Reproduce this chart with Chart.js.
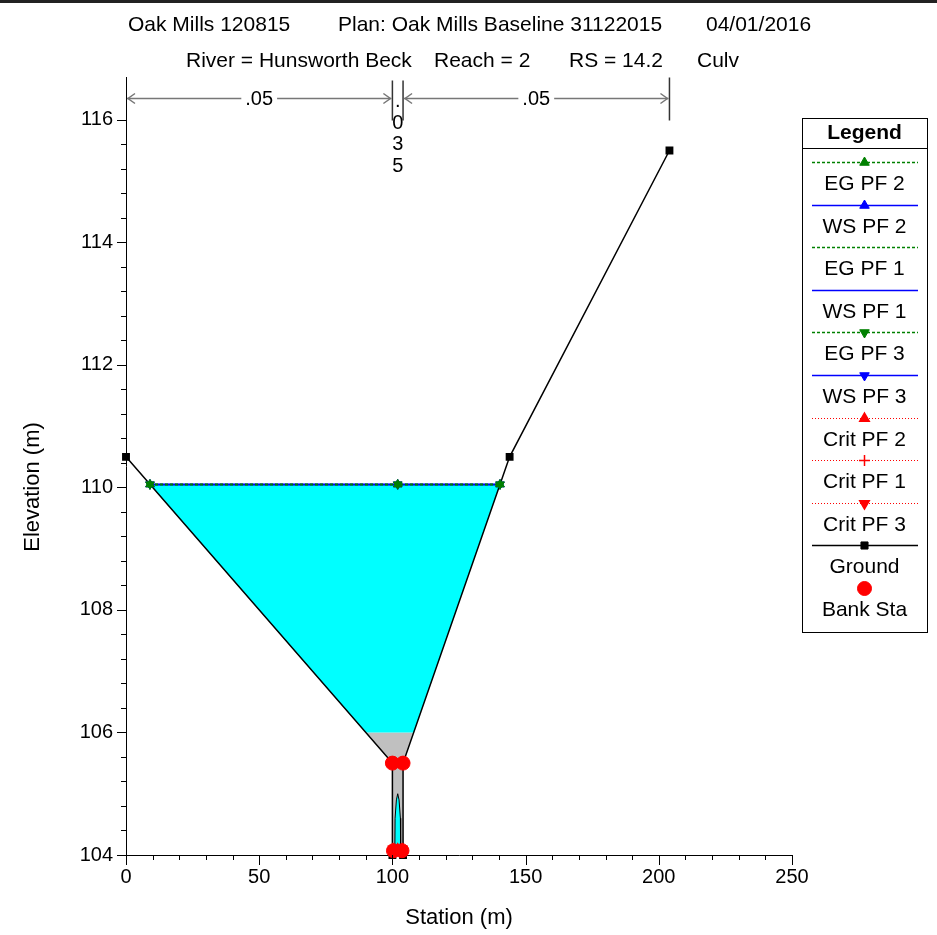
<!DOCTYPE html>
<html>
<head>
<meta charset="utf-8">
<script src="https://cdn.jsdelivr.net/npm/chart.js@4.4.1/dist/chart.umd.min.js"></script>
<style>
  body { margin: 0; background: #fff; }
  #wrap { width: 937px; height: 935px; position: relative; }
</style>
</head>
<body>
<div id="wrap"><canvas id="c" width="937" height="935"></canvas></div>
<script>
// Title text
const titleLine1 = ['Oak Mills 120815', 'Plan: Oak Mills Baseline 31122015', '04/01/2016'];
const titleLine2 = ['River = Hunsworth Beck', 'Reach = 2', 'RS = 14.2', 'Culv'];
const yAxisTitle = 'Elevation (m)';

// Axis ticks
const xTickValues = [0, 50, 100, 150, 200, 250];
const yTickValues = [104, 106, 108, 110, 112, 114, 116];

// Ground profile
const groundX = [0, 100, 100, 104, 104, 144, 204];
const groundY = [110.5, 105.5, 104, 104, 105.5, 110.5, 115.5];

// Water surface / energy grade (all profiles at the same level)
const profileX = [9, 102, 140.4];
const egPF2 = [110.05, 110.05, 110.05];
const wsPF2 = [110.05, 110.05, 110.05];
const egPF1 = [110.05, 110.05, 110.05];
const wsPF1 = [110.05, 110.05, 110.05];
const egPF3 = [110.05, 110.05, 110.05];
const wsPF3 = [110.05, 110.05, 110.05];

// Critical depth inside the culvert
const critX = [100.2, 102, 103.8];
const critPF2 = [104.1, 104.1, 104.1];
const critPF1 = [104.1, 104.1, 104.1];
const critPF3 = [104.1, 104.1, 104.1];

// Bank stations
const bankX = [100, 104, 100.4, 103.6];
const bankY = [105.5, 105.5, 104.07, 104.07];

// Filled areas
const waterX = [9, 90, 108, 140.4, 9];
const waterY = [110.05, 106, 106, 110.05, 110.05];
const culvertX = [90, 100, 100, 104, 104, 108, 90];
const culvertY = [106, 105.5, 104, 104, 105.5, 106, 106];
const culvertWaterX = [100.9, 101.0, 101.5, 102, 102.5, 103.0, 103.1, 100.9];
const culvertWaterY = [104, 104.6, 104.9, 105.0, 104.9, 104.6, 104, 104];

// Manning's n
const nBreaks = [0, 100, 104, 204];
const nValues = ['.05', '.035', '.05'];
const nLevel = 116.36;

const pts = (xs, ys) => xs.map((x, i) => ({ x, y: ys[i] }));

const FONT = "'Liberation Sans', Arial, sans-serif";
const GREEN = '#008000', BLUE = '#0000ff', RED = '#ff0000';

function profileLine(label, ys, color, dash, style, order) {
    return {
        label, data: pts(profileX, ys), showLine: true,
        borderColor: color, backgroundColor: color,
        borderWidth: 1.5, borderDash: dash,
        pointStyle: style || 'circle', pointRadius: style ? 5 : 0,
        pointBorderWidth: 1, order
    };
}

function critLine(label, ys, style) {
    return {
        label, data: pts(critX, ys), showLine: true,
        borderColor: RED, backgroundColor: RED,
        borderWidth: 1, borderDash: [1, 2],
        pointStyle: style, pointRadius: 5, pointBorderWidth: 1.5, order: 20
    };
}

function area(xs, ys, fillColor, border) {
    return {
        data: pts(xs, ys), showLine: true, fill: 'shape',
        backgroundColor: fillColor, borderColor: border || fillColor,
        borderWidth: border ? 1 : 0, pointRadius: 0, order: 100, noLegend: true
    };
}

const datasets = [
    profileLine('EG PF 2', egPF2, GREEN, [3, 2], 'triangle', 30),
    profileLine('WS PF 2', wsPF2, BLUE, [], 'triangle', 40),
    profileLine('EG PF 1', egPF1, GREEN, [3, 2], null, 30),
    profileLine('WS PF 1', wsPF1, BLUE, [], null, 40),
    Object.assign(profileLine('EG PF 3', egPF3, GREEN, [3, 2], 'triangle', 30), { pointRotation: 180 }),
    Object.assign(profileLine('WS PF 3', wsPF3, BLUE, [], 'triangle', 40), { pointRotation: 180 }),
    critLine('Crit PF 2', critPF2, 'triangle'),
    critLine('Crit PF 1', critPF1, 'cross'),
    Object.assign(critLine('Crit PF 3', critPF3, 'triangle'), { pointRotation: 180 }),
    {
        label: 'Ground', data: pts(groundX, groundY), showLine: true, clip: false,
        borderColor: '#000', backgroundColor: '#000', borderWidth: 1.5,
        pointStyle: 'rect', pointRadius: 4.5, order: 50
    },
    {
        label: 'Bank Sta', data: pts(bankX, bankY), showLine: false, clip: false,
        borderColor: RED, backgroundColor: RED,
        pointStyle: 'circle', pointRadius: 7, order: 10
    },
    area(waterX, waterY, '#00ffff'),
    area(culvertX, culvertY, '#c0c0c0'),
    Object.assign(area(culvertWaterX, culvertWaterY, '#00ffff', '#000'), { order: 90 })
];

// Title, Manning's n bar, minor ticks and the boxed legend
const overlay = {
    id: 'overlay',
    afterDraw(chart) {
        const { ctx, scales: { x, y }, chartArea } = chart;
        ctx.save();

        // top frame line
        ctx.fillStyle = '#222';
        ctx.fillRect(0, 0, chart.width, 3);

        // titles
        ctx.fillStyle = '#000';
        ctx.font = '21px ' + FONT;
        ctx.textBaseline = 'middle';
        ctx.textAlign = 'left';
        [128, 338, 706].forEach((px, i) => ctx.fillText(titleLine1[i], px, 25));
        [186, 434, 569, 697].forEach((px, i) => ctx.fillText(titleLine2[i], px, 61));

        // y axis title
        ctx.save();
        ctx.translate(33, 487);
        ctx.rotate(-Math.PI / 2);
        ctx.textAlign = 'center';
        ctx.font = '22px ' + FONT;
        ctx.fillText(yAxisTitle, 0, 0);
        ctx.restore();

        // tick marks
        ctx.strokeStyle = '#000';
        ctx.lineWidth = 1;
        const xb = chartArea.bottom, yl = chartArea.left;
        for (let v = 0; v <= 250; v += 10) {
            const px = Math.round(x.getPixelForValue(v)) + 0.5;
            const len = v % 50 === 0 ? 10 : 5;
            ctx.beginPath(); ctx.moveTo(px, xb); ctx.lineTo(px, xb + len); ctx.stroke();
        }
        for (let k = 0; k <= 30; k++) {
            const v = 104 + k * 0.4;
            const py = Math.round(y.getPixelForValue(v)) + 0.5;
            const len = k % 5 === 0 ? 9 : 5;
            ctx.beginPath(); ctx.moveTo(yl, py); ctx.lineTo(yl - len, py); ctx.stroke();
        }

        // Manning's n bar
        const ny = Math.round(y.getPixelForValue(nLevel)) + 0.5;
        const bx = nBreaks.map(v => x.getPixelForValue(v));
        ctx.strokeStyle = '#333';
        ctx.lineWidth = 1.5;
        bx.forEach((px, i) => {
            if (i === 0) return;
            const top = i === bx.length - 1 ? ny - 21 : ny - 18;
            ctx.beginPath(); ctx.moveTo(px, top); ctx.lineTo(px, ny + 22); ctx.stroke();
        });
        ctx.font = '20px ' + FONT;
        ctx.textAlign = 'center';
        for (let i = 0; i < nValues.length; i++) {
            const a = bx[i], b = bx[i + 1];
            const tw = ctx.measureText(nValues[i]).width;
            if (b - a > tw + 20) {
                ctx.strokeStyle = '#777';
                ctx.lineWidth = 1.5;
                ctx.beginPath(); ctx.moveTo(a + 1, ny); ctx.lineTo(b - 1, ny); ctx.stroke();
                ctx.beginPath();
                ctx.moveTo(a + 9, ny - 5); ctx.lineTo(a + 2, ny); ctx.lineTo(a + 9, ny + 5);
                ctx.moveTo(b - 9, ny - 5); ctx.lineTo(b - 2, ny); ctx.lineTo(b - 9, ny + 5);
                ctx.stroke();
                const cx = (a + b) / 2;
                ctx.fillStyle = '#fff';
                ctx.fillRect(cx - tw / 2 - 4, ny - 8, tw + 8, 16);
                ctx.fillStyle = '#000';
                ctx.fillText(nValues[i], cx, ny + 1);
            } else {
                ctx.fillStyle = '#000';
                const cx = (a + b) / 2;
                nValues[i].split('').forEach((ch, k) => ctx.fillText(ch, cx, ny + 3 + k * 21.5));
            }
        }

        // legend box
        const L = 802, R = 927, T = 118, B = 632, cx = (L + R) / 2;
        ctx.fillStyle = '#fff';
        ctx.fillRect(L, T, R - L, B - T);
        ctx.strokeStyle = '#000';
        ctx.lineWidth = 1;
        ctx.strokeRect(L + 0.5, T + 0.5, R - L, B - T);
        ctx.beginPath(); ctx.moveTo(L, 148.5); ctx.lineTo(R, 148.5); ctx.stroke();
        ctx.fillStyle = '#000';
        ctx.font = 'bold 21px ' + FONT;
        ctx.fillText('Legend', cx, 133);
        ctx.font = '21px ' + FONT;
        chart.data.datasets.filter(d => !d.noLegend).forEach((d, i) => {
            const ly = Math.round(162 + i * 42.6) + 0.5;
            if (d.showLine) {
                ctx.save();
                ctx.strokeStyle = d.borderColor;
                ctx.lineWidth = d.borderWidth;
                ctx.setLineDash(d.borderDash || []);
                ctx.beginPath(); ctx.moveTo(L + 10, ly); ctx.lineTo(R - 9, ly); ctx.stroke();
                ctx.restore();
            }
            if (d.pointRadius > 0) {
                ctx.save();
                ctx.fillStyle = d.backgroundColor;
                ctx.strokeStyle = d.borderColor;
                ctx.lineWidth = d.pointBorderWidth || 1;
                Chart.helpers.drawPoint(ctx, {
                    pointStyle: d.pointStyle, radius: Math.min(d.pointRadius + 0.5, 7),
                    rotation: d.pointRotation || 0, borderWidth: d.pointBorderWidth || 1
                }, cx, ly);
                ctx.restore();
            }
            ctx.fillStyle = '#000';
            ctx.fillText(d.label, cx, ly + 22);
        });

        ctx.restore();
    }
};

new Chart(document.getElementById('c'), {
    type: 'scatter',
    data: { datasets },
    options: {
        responsive: false,
        animation: false,
        layout: { padding: { top: 77, right: 145, left: 0, bottom: 0 } },
        elements: { line: { tension: 0 } },
        scales: {
            x: {
                type: 'linear', min: 0, max: 250,
                afterBuildTicks: s => { s.ticks = xTickValues.map(v => ({ value: v })); },
                afterFit: s => { s.height = 80; },
                ticks: { color: '#000', font: { family: FONT, size: 20 }, padding: 10, maxRotation: 0 },
                grid: { display: false, drawTicks: false },
                border: { display: true, color: '#000', width: 1 },
                title: { display: true, text: 'Station (m)', color: '#000',
                         font: { family: FONT, size: 22 }, padding: { top: 0, bottom: 4 } }
            },
            y: {
                type: 'linear', min: 104, max: 116.7,
                afterBuildTicks: s => { s.ticks = yTickValues.map(v => ({ value: v })); },
                afterFit: s => { s.width = 126; },
                ticks: { color: '#000', font: { family: FONT, size: 20 }, padding: 13 },
                grid: { display: false, drawTicks: false },
                border: { display: true, color: '#000', width: 1 }
            }
        },
        plugins: {
            legend: { display: false },
            tooltip: { enabled: false }
        }
    },
    plugins: [overlay]
});
</script>
</body>
</html>
